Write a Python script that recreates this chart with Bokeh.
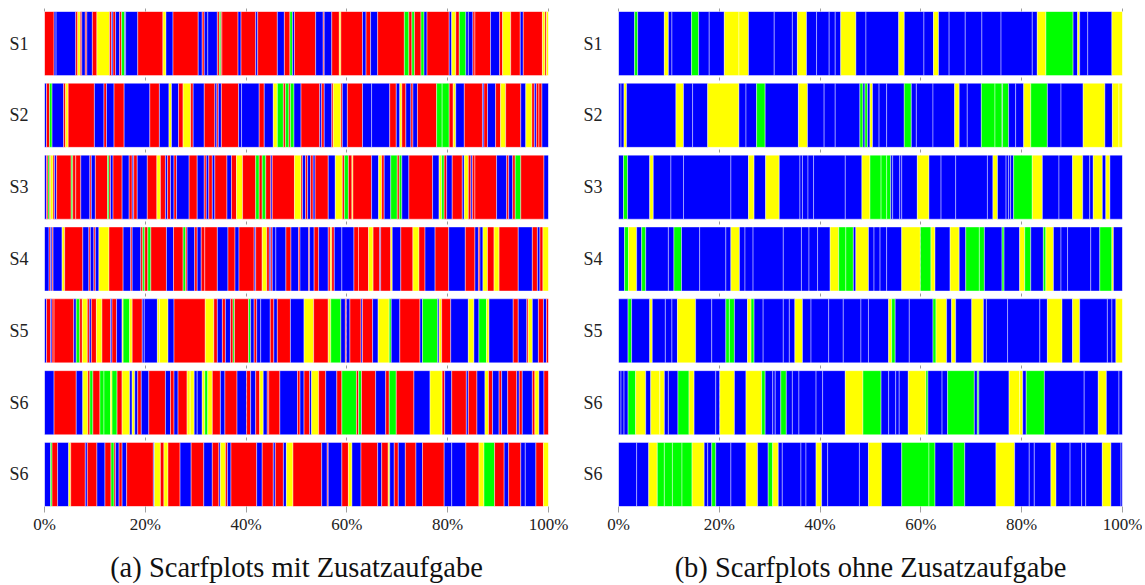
from bokeh.plotting import figure
from bokeh.models import FixedTicker, LinearAxis
from bokeh.layouts import row
from bokeh.embed import file_html
from bokeh.resources import INLINE

# ---------------- data ----------------
COLORS = {"R": "#ff0000", "B": "#0000ff", "Y": "#ffff00", "G": "#00ff00"}
row_labels = ["S1", "S2", "S3", "S4", "S5", "S6", "S6"]
x_ticks = [0, 20, 40, 60, 80, 100]
x_tick_labels = ["0%", "20%", "40%", "60%", "80%", "100%"]
captions = ["(a) Scarfplots mit Zusatzaufgabe", "(b) Scarfplots ohne Zusatzaufgabe"]

# each token: colour code + end position (percent) of the segment
a_s1 = ("R1.9 B2.3 B6.2 R6.6 Y7.1 R7.4 B8.1 R8.4 B9.5 R10.4 Y12.9 R13.3 B13.6 R14.1 B14.9 R15.3 G15.9 B16.1 "
        "B18.5 R23.5 Y24.1 B25.5 R30.5 B31.3 R31.7 B32.4 B34.3 R34.7 G35.0 R35.2 R38.4 B39.0 R41.9 B42.3 "
        "R46.2 B47.6 R48.7 G49.2 B49.6 R53.8 B55.3 R55.5 B57.0 R58.5 Y58.8 R63.1 B63.8 R64.7 B66.1 R71.4 "
        "G72.3 R72.9 G73.4 R74.7 G75.3 B75.9 R80.3 B80.8 Y81.6 R82.3 G83.6 B84.1 B85.0 R85.4 R88.5 B90.3 "
        "R90.9 Y92.5 R94.4 B95.0 R98.8 Y99.3 R99.6 Y100").split()
a_s2 = ("B0.4 R1.0 G1.5 B3.8 R4.2 Y4.7 R9.9 B11.8 R12.3 B13.8 R15.8 B20.9 R22.8 B24.7 Y25.2 B26.6 R27.5 "
        "Y29.0 R29.5 B31.7 R33.8 B34.2 R34.5 B35.1 R38.5 B39.1 B42.6 R43.6 B45.4 Y46.2 G47.4 R47.8 G48.5 "
        "R48.8 G49.5 B50.9 R54.6 B55.0 R55.5 B57.0 R57.3 Y58.8 R59.1 B60.1 R63.1 B64.9 B68.5 R69.8 B70.5 "
        "Y70.9 R71.7 B72.7 R73.1 B74.0 R77.8 G78.9 G80.3 R81.1 Y81.6 B83.3 R86.9 B87.2 R87.9 B89.5 R90.5 "
        "Y91.5 R94.5 B95.5 Y96.7 R97.2 B97.6 R98.1 R98.7 B100").split()
a_s3 = ("B0.4 R0.7 G1.0 R1.2 Y1.7 R2.0 B2.4 R5.3 G5.6 R6.2 R7.2 B9.0 R9.3 B10.1 R12.5 G12.8 R13.1 B13.6 "
        "R15.4 B16.8 R17.4 B17.7 R18.4 B20.4 R22.3 Y23.0 R24.0 B24.4 R25.0 B25.7 R26.2 B28.7 R30.3 B31.7 "
        "R32.1 B32.6 R33.3 B33.8 R36.2 B37.1 R38.1 Y39.3 R41.9 G42.6 R43.2 G43.9 R44.9 B45.2 R49.6 Y50.9 "
        "R51.2 B51.8 R52.2 B52.8 R53.3 B53.7 R56.3 B57.7 Y59.1 R59.5 G60.3 R61.0 Y61.2 R64.9 B66.3 Y66.9 "
        "R67.4 B68.7 G70.0 R70.4 G70.9 B72.3 R77.0 B78.3 Y78.8 G79.3 R79.8 B80.9 R82.9 B83.3 Y84.1 R84.6 "
        "B84.9 R85.4 R89.7 B91.7 R92.1 B92.9 R93.4 G94.5 R99.1 B100").split()
a_s4 = ("B0.9 R1.2 B1.5 R1.7 B3.5 Y4.0 R7.6 B8.8 R9.1 B9.8 R10.1 B10.8 Y12.8 R15.6 B17.1 R17.4 B19.1 R19.5 "
        "G19.9 R20.5 G21.1 R24.2 B25.6 R27.5 G28.0 R28.3 B29.8 R30.3 B31.1 R31.8 R34.3 B36.4 R37.8 B38.6 "
        "R41.6 B41.9 R43.2 Y44.1 R44.6 B44.9 R45.2 B45.9 B47.9 R48.9 B50.4 R50.7 B52.4 R52.6 B53.5 R54.4 "
        "B56.3 R56.7 Y57.0 R57.5 B59.0 B61.4 R62.3 R64.3 Y65.2 R66.5 B66.7 R68.7 Y69.0 B70.7 R73.1 Y74.3 "
        "R75.5 B77.5 R80.2 B83.5 R85.4 B86.1 R86.4 B87.0 Y87.9 R89.2 Y90.2 R94.0 B96.8 R97.8 B98.3 R98.9 "
        "Y100").split()
a_s5 = ("B0.4 R1.2 B1.5 R1.9 R5.8 B6.3 G7.0 R7.5 Y8.5 R8.9 B9.3 R10.3 Y11.4 R13.1 B13.4 R14.3 B15.4 Y15.6 "
        "G16.9 Y17.4 R19.4 B19.8 B22.4 Y22.8 Y24.5 B25.7 R31.9 Y33.6 R34.3 B35.3 R35.9 B36.9 R37.4 G37.7 "
        "R40.5 G40.9 B41.6 R42.1 B42.9 B44.8 R45.5 B46.2 R48.8 B51.5 Y53.4 R56.3 Y56.8 G58.8 B59.7 R59.9 "
        "B60.6 R62.8 B63.1 R65.1 B66.2 Y68.4 G68.8 B70.5 R74.5 B75.0 G78.0 B78.3 Y78.8 R80.6 B84.1 Y85.2 "
        "B86.2 G87.7 Y88.2 B93.0 R94.0 B95.7 R96.0 Y96.8 B98.0 R99.0 B99.6 R100").split()
a_s6a = ("B1.9 R6.3 B7.6 Y8.6 R9.0 G9.6 R11.0 G11.8 G13.1 Y13.4 G14.4 R15.4 Y16.9 B17.4 Y17.9 B18.5 R19.2 "
         "B20.7 R24.0 B25.0 R25.7 B26.5 R28.3 Y28.9 Y29.7 B30.3 B31.3 Y31.8 G32.4 Y33.3 R34.9 B35.8 R38.2 "
         "B40.1 R40.9 B41.9 R42.7 Y43.4 B44.2 R44.5 R46.7 B50.2 R50.7 B51.5 R52.6 B53.0 Y54.4 R55.8 B58.0 "
         "R59.0 G61.9 R62.3 G62.9 R65.7 B67.7 R68.4 G69.8 R73.3 B76.5 Y78.9 R79.4 B80.8 R83.7 B84.1 R85.8 "
         "B87.4 Y88.1 R88.9 B90.2 R90.7 B91.9 R93.7 B94.2 R94.8 B96.8 R97.3 Y98.1 B99.1 R100").split()
a_s6b = ("B1.2 G1.5 R2.6 B4.8 Y5.2 R8.1 B8.5 R10.4 B12.0 R13.2 G13.8 R14.1 B14.8 R15.4 B16.3 R21.6 B21.8 "
         "Y23.0 R23.7 Y24.5 R26.9 B29.1 R31.6 B33.3 R34.6 B34.9 Y35.9 R36.3 B37.0 R42.1 B43.2 R45.4 B45.8 "
         "R47.4 B48.0 Y49.3 R55.0 B56.1 R56.3 B59.0 R60.3 Y61.0 B62.8 R66.1 B66.9 R68.2 Y68.5 B69.4 R70.2 "
         "B71.6 R73.7 B75.0 R79.3 B80.8 B83.6 R86.2 Y87.2 G89.3 R91.2 B92.1 R94.5 B95.4 B97.5 R99.0 "
         "Y100").split()

b_s1 = ("B3.2 G3.8 B9.1 Y9.9 B10.6 B14.5 G15.9 B18.0 B21.0 Y23.9 Y25.8 B30.9 B34.5 B35.5 Y37.3 B39.3 "
        "B41.8 B43.0 B44.1 Y47.1 B49.1 B55.6 Y56.7 B60.6 B62.5 Y63.5 B65.6 B68.8 B72.1 B75.9 B82.1 B83.1 "
        "Y84.8 G90.2 B91.1 Y91.5 B93.1 B97.9 Y100").split()
b_s2 = ("B0.5 B1.1 Y1.6 B11.4 Y12.9 B14.7 B17.7 Y23.9 B25.3 B27.4 G29.1 B35.7 Y37.5 B40.8 B43.0 B47.9 "
        "G48.5 B48.9 G49.4 B49.9 Y50.4 B51.7 B53.2 B56.7 G58.1 B59.1 B62.4 B66.7 Y67.6 B69.2 B72.0 G74.7 "
        "G76.1 B76.2 G77.4 B78.8 B80.4 Y81.8 G85.1 B87.8 B92.2 Y96.5 B98.0 Y99.3 Y100").split()
b_s3 = ("B1.0 G1.8 B6.2 Y6.9 B10.4 B12.9 B22.3 B25.8 Y26.9 B29.2 Y31.9 B36.0 B36.5 B37.6 B38.7 B45.0 "
        "B48.3 Y49.9 G52.1 G53.2 G54.0 B54.4 B55.8 B56.2 B59.3 Y61.6 B64.0 B66.9 B73.2 B74.3 Y75.2 B76.9 "
        "B77.4 B77.8 B78.4 G82.1 Y84.1 B87.4 B90.1 Y92.1 B93.5 B94.2 Y96.0 B96.7 Y97.5 B100").split()
b_s4 = ("B1.2 G2.0 Y3.6 B4.6 G5.4 B9.9 B11.0 G12.5 B16.1 B21.3 B22.3 Y24.0 B25.1 B26.7 B32.7 B36.3 B37.8 "
        "B39.5 B42.0 Y43.7 G45.1 G46.6 B47.1 Y49.6 B50.7 B51.9 B53.2 B56.2 Y59.9 G62.0 Y62.8 B65.8 Y67.6 "
        "B68.9 G71.6 G72.6 B76.1 G76.5 B79.6 Y80.6 G81.8 B84.3 G84.8 Y86.3 B87.8 B89.1 B93.7 B95.5 G97.9 "
        "Y98.2 B100").split()
b_s5 = ("B1.9 G2.6 B6.2 Y6.7 B9.3 B10.6 B11.7 Y15.3 B18.5 B21.3 G22.0 G23.0 B25.6 Y26.3 G26.9 B28.7 "
        "B32.7 B33.9 B35.0 Y36.5 B38.2 B41.7 B44.6 B48.1 B49.6 B53.6 Y54.2 G54.9 B57.7 B62.4 G63.0 Y65.1 "
        "B66.1 Y66.9 B70.1 Y72.4 B73.0 B77.2 B83.6 B85.1 Y88.0 B90.1 Y91.5 B97.0 B97.9 B98.7 Y100").split()
b_s6a = ("B0.5 B1.1 B1.9 G3.4 Y5.4 B6.4 Y8.2 Y9.1 B9.9 B11.8 G14.0 Y15.0 B19.3 B20.1 Y23.0 B25.3 Y28.4 "
         "G29.1 B30.6 B31.1 B32.2 G33.3 B34.5 B35.8 B39.2 B40.5 B45.0 Y48.5 G52.1 B53.6 B55.0 B55.7 B57.5 "
         "Y61.0 G61.4 B64.2 B65.3 G70.6 B71.2 G71.5 B77.5 Y79.6 Y80.2 B80.9 G84.5 B92.4 B95.2 Y96.8 B99.3 "
         "B100").split()
b_s6b = ("B3.6 B6.0 Y7.7 G9.1 G10.7 G12.6 G14.6 Y17.0 B17.7 B18.5 G19.3 B22.3 B25.3 Y27.6 B29.7 G30.6 "
         "Y31.7 B32.5 B36.2 B37.2 B39.2 Y40.3 B41.5 B47.8 B49.6 Y52.2 B56.2 G61.6 G62.8 B66.4 G68.7 B74.9 "
         "Y78.6 B81.5 B82.5 B85.8 Y86.8 B89.6 B91.9 B92.7 B96.0 Y97.7 B99.7 B100").split()

panel_a = [a_s1, a_s2, a_s3, a_s4, a_s5, a_s6a, a_s6b]
panel_b = [b_s1, b_s2, b_s3, b_s4, b_s5, b_s6a, b_s6b]

FONT = "'Liberation Serif'"
H = 585
TOP = 11
FRAME_H = 495
HALF = 0.4455


def make_panel(rows, caption, border_left, border_right):
    p = figure(width=border_left + 504 + border_right, height=H,
               x_range=(0, 100), y_range=(-HALF, 6 + HALF),
               output_backend="svg", toolbar_location=None,
               min_border_left=border_left, min_border_right=border_right,
               min_border_top=TOP, min_border_bottom=H - TOP - FRAME_H)
    p.outline_line_color = None
    p.background_fill_color = "white"
    p.border_fill_color = "white"

    for i, segs in enumerate(rows):
        yc = 6 - i
        left, right, cols = [], [], []
        prev = 0.0
        for tok in segs:
            end = float(tok[1:])
            left.append(prev)
            right.append(end)
            cols.append(COLORS[tok[0]])
            prev = end
        p.quad(left=left, right=right, bottom=yc - HALF, top=yc + HALF,
               fill_color=cols, line_color="white", line_alpha=0.4, line_width=1)

    # x axis (below) — its axis label carries the sub-figure caption
    p.xaxis.ticker = FixedTicker(ticks=x_ticks)
    p.xaxis.major_label_overrides = {t: l for t, l in zip(x_ticks, x_tick_labels)}
    p.xaxis.axis_line_color = None
    p.xaxis.major_tick_out = 6
    p.xaxis.major_tick_in = 0
    p.xaxis.major_tick_line_color = "#a0a0a0"
    p.xaxis.minor_tick_line_color = None
    p.xaxis.major_label_standoff = 2
    p.xaxis.major_label_text_font = FONT
    p.xaxis.major_label_text_font_size = "17px"
    p.xaxis.major_label_text_color = "#222222"
    p.xaxis.axis_label = caption
    p.xaxis.axis_label_text_font = FONT
    p.xaxis.axis_label_text_font_size = "28.5px"
    p.xaxis.axis_label_text_font_style = "normal"
    p.xaxis.axis_label_text_color = "#111111"
    p.xaxis.axis_label_standoff = 15

    # tick marks on top edge
    top_axis = LinearAxis(ticker=FixedTicker(ticks=x_ticks),
                          major_label_overrides={t: "" for t in x_ticks},
                          major_label_text_font_size="0px", major_label_standoff=0,
                          axis_line_color=None, major_tick_out=3, major_tick_in=0,
                          major_tick_line_color="#a0a0a0", minor_tick_line_color=None)
    p.add_layout(top_axis, "above")

    # y axis
    p.yaxis.ticker = FixedTicker(ticks=list(range(7)))
    p.yaxis.major_label_overrides = {6 - i: l for i, l in enumerate(row_labels)}
    p.yaxis.axis_line_color = None
    p.yaxis.major_tick_line_color = None
    p.yaxis.minor_tick_line_color = None
    p.yaxis.major_tick_out = 0
    p.yaxis.major_label_standoff = 16
    p.yaxis.major_label_text_font = FONT
    p.yaxis.major_label_text_font_size = "18px"
    p.yaxis.major_label_text_color = "#222222"

    # grid
    p.xgrid.ticker = FixedTicker(ticks=x_ticks)
    p.xgrid.grid_line_color = "#9a9a9a"
    p.xgrid.grid_line_dash = "3 3"
    p.xgrid.grid_line_width = 1
    p.ygrid.grid_line_color = None
    return p


p1 = make_panel(panel_a, captions[0], 44, 22)
p2 = make_panel(panel_b, captions[1], 48, 20)
p = row(p1, p2)

open("out.html", "w").write(file_html(p, INLINE))
